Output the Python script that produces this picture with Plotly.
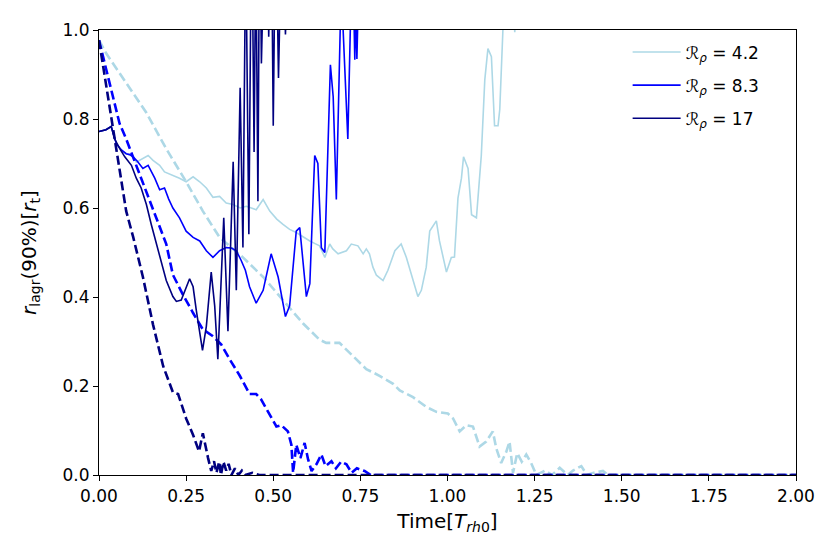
import plotly.graph_objects as go

# ---- data ----------------------------------------------------------------
# solid lines: R_rho = 4.2 / 8.3 / 17
t_s42 = [0, 0.02, 0.035, 0.045, 0.05, 0.065, 0.078, 0.088, 0.098, 0.107, 0.126, 0.141, 0.155,
         0.174, 0.188, 0.212, 0.231, 0.25, 0.27, 0.289, 0.308, 0.327, 0.346, 0.365, 0.385, 0.405,
         0.423, 0.451, 0.471, 0.49, 0.51, 0.528, 0.547, 0.566, 0.585, 0.605, 0.62, 0.633, 0.648,
         0.662, 0.671, 0.686, 0.71, 0.724, 0.743, 0.758, 0.767, 0.776, 0.786, 0.796, 0.815, 0.829,
         0.849, 0.867, 0.882, 0.901, 0.915, 0.925, 0.939, 0.949, 0.968, 0.977, 0.997, 1.011, 1.02,
         1.03, 1.04, 1.046, 1.059, 1.069, 1.083, 1.097, 1.107, 1.116, 1.126, 1.135, 1.145, 1.15,
         1.159, 1.175, 1.19, 1.193, 1.196, 1.22, 2.0]
r_s42 = [0.772, 0.776, 0.783, 0.755, 0.744, 0.73, 0.722, 0.72, 0.715, 0.703, 0.711, 0.718, 0.707,
         0.696, 0.681, 0.674, 0.667, 0.659, 0.67, 0.659, 0.645, 0.624, 0.626, 0.611, 0.608, 0.6,
         0.604, 0.596, 0.619, 0.593, 0.575, 0.563, 0.552, 0.545, 0.535, 0.526, 0.52, 0.515, 0.489,
         0.519, 0.508, 0.497, 0.504, 0.519, 0.515, 0.497, 0.508, 0.497, 0.467, 0.449, 0.437, 0.46,
         0.504, 0.519, 0.489, 0.437, 0.401, 0.415, 0.467, 0.548, 0.571, 0.526, 0.456, 0.489, 0.49,
         0.622, 0.667, 0.715, 0.689, 0.585, 0.578, 0.718, 0.888, 0.958, 0.94, 0.785, 0.785, 0.822,
         1.0, 1.1, 1.05, 0.995, 1.05, 1.3, 3.0]

t_s83 = [0, 0.02, 0.035, 0.045, 0.05, 0.065, 0.078, 0.088, 0.098, 0.11, 0.126, 0.141, 0.16, 0.174,
         0.188, 0.2, 0.212, 0.231, 0.25, 0.27, 0.289, 0.308, 0.327, 0.346, 0.365, 0.38, 0.394,
         0.408, 0.42, 0.432, 0.451, 0.471, 0.494, 0.514, 0.535, 0.547, 0.557, 0.566, 0.576, 0.585,
         0.595, 0.605, 0.619, 0.628, 0.638, 0.648, 0.657, 0.664, 0.672, 0.681, 0.695, 0.714, 0.724,
         0.731, 0.734, 0.737, 0.74, 0.745, 0.8, 2.0]
r_s83 = [0.772, 0.776, 0.783, 0.755, 0.744, 0.73, 0.722, 0.72, 0.715, 0.705, 0.689, 0.696, 0.667,
         0.641, 0.645, 0.62, 0.6, 0.578, 0.548, 0.534, 0.526, 0.504, 0.489, 0.504, 0.511, 0.51,
         0.504, 0.482, 0.46, 0.423, 0.386, 0.415, 0.497, 0.445, 0.356, 0.38, 0.47, 0.548, 0.556,
         0.474, 0.401, 0.43, 0.718, 0.7, 0.511, 0.5, 0.748, 0.922, 0.85, 0.619, 1.1, 0.755, 1.1,
         1.05, 0.933, 1.05, 0.935, 1.1, 1.3, 3.0]

t_s17 = [0, 0.02, 0.035, 0.045, 0.06, 0.074, 0.093, 0.107, 0.121, 0.136, 0.15, 0.165, 0.179, 0.193,
         0.212, 0.222, 0.236, 0.25, 0.26, 0.27, 0.279, 0.297, 0.308, 0.322, 0.332, 0.341, 0.358,
         0.37, 0.385, 0.394, 0.405, 0.413, 0.421, 0.43, 0.438, 0.445, 0.45, 0.456, 0.461, 0.466,
         0.472, 0.48, 0.487, 0.494, 0.5, 0.507, 0.515, 0.526, 0.535, 0.55, 0.6, 2.0]
r_s17 = [0.772, 0.776, 0.783, 0.755, 0.733, 0.715, 0.696, 0.667, 0.645, 0.608, 0.563, 0.519, 0.474,
         0.437, 0.401, 0.39, 0.393, 0.423, 0.441, 0.423, 0.371, 0.28, 0.334, 0.456, 0.38, 0.26,
         0.578, 0.323, 0.704, 0.415, 0.87, 0.511, 1.2, 0.541, 1.3, 0.726, 1.2, 0.615, 1.3, 0.925,
         1.3, 1.4, 0.985, 1.3, 0.785, 1.3, 0.892, 1.3, 0.99, 1.4, 1.6, 3.0]

# dashed lines
t_d42 = [0, 0.021, 0.078, 0.136, 0.193, 0.25, 0.298, 0.346, 0.413, 0.471, 0.528, 0.585, 0.633,
         0.652, 0.69, 0.729, 0.767, 0.805, 0.844, 0.863, 0.901, 0.939, 0.968, 1.001, 1.016, 1.035,
         1.054, 1.073, 1.092, 1.111, 1.13, 1.14, 1.154, 1.169, 1.178, 1.188, 1.2, 1.213, 1.226,
         1.24, 1.255, 1.28, 1.3, 1.322, 1.345, 1.36, 1.384, 1.4, 1.42, 1.446, 1.46, 2.0]
r_d42 = [0.977, 0.947, 0.881, 0.814, 0.733, 0.659, 0.593, 0.534, 0.489, 0.445, 0.393, 0.341, 0.304,
         0.297, 0.297, 0.268, 0.238, 0.223, 0.205, 0.19, 0.175, 0.153, 0.142, 0.138, 0.127, 0.098,
         0.112, 0.109, 0.064, 0.075, 0.098, 0.06, 0.027, 0.053, 0.075, 0.005, 0.049, 0.03, 0.046,
         0.027, 0.0, 0.01, 0.0, 0.016, 0.0, 0.01, 0.02, 0.0, 0.005, 0.009, 0.0, 0.0]

t_d83 = [0, 0.012, 0.031, 0.059, 0.078, 0.107, 0.136, 0.165, 0.184, 0.193, 0.212, 0.241, 0.27,
         0.298, 0.327, 0.351, 0.375, 0.404, 0.432, 0.451, 0.465, 0.48, 0.494, 0.509, 0.523, 0.542,
         0.552, 0.557, 0.566, 0.578, 0.59, 0.6, 0.61, 0.624, 0.638, 0.65, 0.667, 0.68, 0.695, 0.71,
         0.725, 0.74, 0.762, 0.78, 2.0]
r_d83 = [0.977, 0.94, 0.88, 0.79, 0.755, 0.696, 0.637, 0.578, 0.541, 0.519, 0.45, 0.405, 0.364,
         0.327, 0.312, 0.293, 0.26, 0.223, 0.182, 0.182, 0.17, 0.149, 0.127, 0.109, 0.112, 0.098,
         0.068, 0.005, 0.068, 0.038, 0.072, 0.035, 0.009, 0.024, 0.046, 0.02, 0.031, 0.015, 0.03,
         0.024, 0.005, 0.015, 0.009, 0.0, 0.0]

t_d17 = [0, 0.04, 0.078, 0.098, 0.117, 0.126, 0.155, 0.184, 0.212, 0.227, 0.25, 0.27, 0.287, 0.298,
         0.313, 0.322, 0.33, 0.337, 0.345, 0.35, 0.357, 0.365, 0.372, 0.38, 0.39, 0.4, 0.41, 0.42,
         0.44, 0.46, 0.5, 2.0]
r_d17 = [0.977, 0.785, 0.593, 0.535, 0.47, 0.445, 0.338, 0.245, 0.186, 0.182, 0.127, 0.09, 0.053,
         0.094, 0.038, 0.009, 0.031, 0.005, 0.03, 0.0, 0.03, 0.01, 0.025, 0.0, 0.015, 0.0, 0.01,
         0.0, 0.005, 0.0, 0.0, 0.0]

labels = ["4.2", "8.3", "17"]
colors = ["#ADD8E6", "#0000FF", "#000080"]
solid = [(t_s42, r_s42), (t_s83, r_s83), (t_s17, r_s17)]
dashed = [(t_d42, r_d42), (t_d83, r_d83), (t_d17, r_d17)]

FONT = "DejaVu Sans"

fig = go.Figure()

for lab, col, (ts, rs), (td, rd) in zip(labels, colors, solid, dashed):
    fig.add_trace(go.Scatter(
        x=ts, y=rs, mode="lines", name=f"ℛ<sub><i>ρ</i></sub> = {lab}",
        legendgroup=lab, line=dict(color=col, width=1.6)
    ))
    fig.add_trace(go.Scatter(
        x=td, y=rd, mode="lines", showlegend=False, legendgroup=lab,
        line=dict(color=col, width=2.6, dash="9px,4px")
    ))

fig.update_layout(
    width=831, height=554,
    margin=dict(l=91, r=43, t=16, b=87),
    paper_bgcolor="white", plot_bgcolor="white",
    font=dict(family=FONT, size=17, color="black"),
    legend=dict(x=0.955, xanchor="right", y=0.99, yanchor="top",
                bgcolor="rgba(0,0,0,0)", font=dict(size=17),
                tracegroupgap=8, itemwidth=48),
    showlegend=True,
)

axis_style = dict(showline=True, linecolor="black", linewidth=1.2, mirror=True,
                  ticks="outside", ticklen=5, tickwidth=1.2, tickcolor="black",
                  showgrid=False, zeroline=False)

fig.update_xaxes(range=[0, 2], dtick=0.25, tick0=0, tickformat=".2f",
                 title=dict(text="Time[<i>T</i><sub><i>rh</i>0</sub>]", standoff=9),
                 **axis_style)
fig.update_yaxes(range=[0, 1], dtick=0.2, tick0=0, tickformat=".1f",
                 title=dict(text="<i>r</i><sub>lagr</sub>(90%)[<i>r</i><sub>t</sub>]", standoff=20),
                 **axis_style)

fig.write_html("out.html")
